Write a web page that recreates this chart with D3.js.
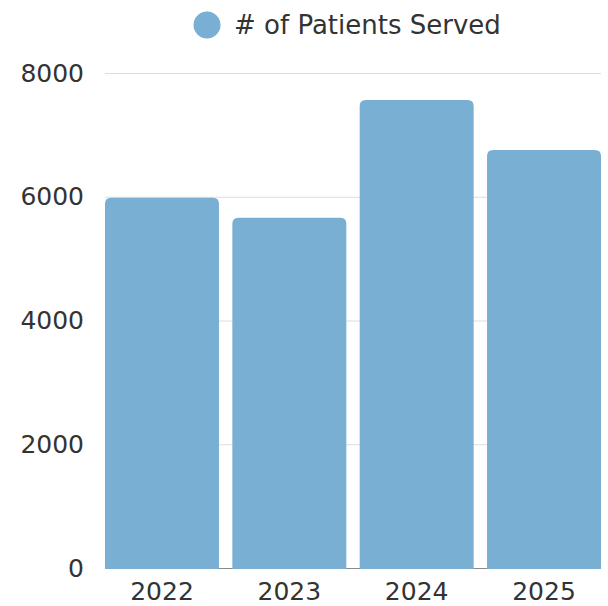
<!DOCTYPE html>
<html>
<head>
<meta charset="utf-8">
<script src="https://cdn.jsdelivr.net/npm/d3@7"></script>
<style>
  body { margin: 0; background: #fff; }
  svg text { font-family: "DejaVu Sans", sans-serif; fill: #333333; }
</style>
</head>
<body>
<svg id="chart" width="608" height="606"></svg>
<script>
var years = ["2022", "2023", "2024", "2025"];
var patients = [5985, 5660, 7565, 6755];
var yTicks = [0, 2000, 4000, 6000, 8000];
var seriesName = "# of Patients Served";
var barColor = "#7aafd4";

var svg = d3.select("#chart");
var plotLeft = 105, plotRight = 601, plotTop = 73, plotBottom = 568;

var xs = d3.scaleBand()
    .domain(years)
    .range([plotLeft, plotRight])
    .paddingInner(0.105)
    .paddingOuter(0);

var ys = d3.scaleLinear()
    .domain([0, 8000])
    .range([plotBottom, plotTop]);

// gridlines + y labels
var y_axis = d3.axisLeft(ys)
    .tickValues(yTicks)
    .tickSize(-(plotRight - plotLeft))
    .tickPadding(21)
    .tickFormat(d3.format("d"));

var yg = svg.append("g")
    .attr("transform", `translate(${plotLeft},0)`)
    .call(y_axis);
yg.select(".domain").remove();
yg.selectAll(".tick line").attr("stroke", "#dddddd");
yg.selectAll(".tick text").style("font-size", "25px").attr("fill", "#333333");

// x axis (drawn before the bars so they cover the baseline)
var x_axis = d3.axisBottom(xs)
    .tickSize(0)
    .tickPadding(14);

var xg = svg.append("g")
    .attr("transform", `translate(0,${plotBottom})`)
    .call(x_axis);
xg.select(".domain").attr("stroke", "#8a8a8a").attr("d", `M${plotLeft},0.5H${plotRight}`);
xg.selectAll(".tick text").style("font-size", "25px").attr("fill", "#333333");

// bars, rounded on top only
var r = 6;
function barPath(d, i) {
    var x0 = xs(years[i]), w = xs.bandwidth();
    var y0 = ys(d), y1 = ys(0) + 1;
    return `M${x0},${y1} L${x0},${y0 + r} Q${x0},${y0} ${x0 + r},${y0}` +
        ` L${x0 + w - r},${y0} Q${x0 + w},${y0} ${x0 + w},${y0 + r} L${x0 + w},${y1} Z`;
}

svg.append("g")
    .selectAll("path")
    .data(patients)
    .enter().append("path")
    .attr("d", barPath)
    .attr("fill", barColor);

// legend
var legend = svg.append("g");
legend.append("circle")
    .attr("cx", 207)
    .attr("cy", 25)
    .attr("r", 13.5)
    .attr("fill", barColor);
legend.append("text")
    .attr("x", 234)
    .attr("y", 34)
    .style("font-size", "26px")
    .text(seriesName);
</script>
</body>
</html>
